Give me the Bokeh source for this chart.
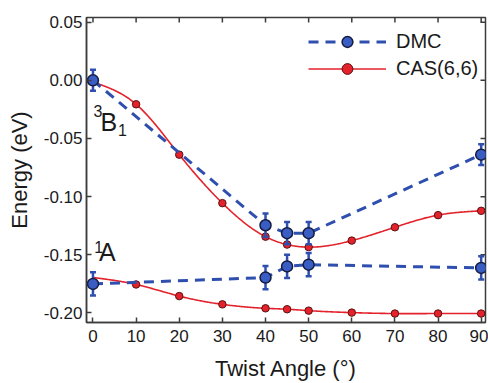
import numpy as np
from bokeh.plotting import figure
from bokeh.models import (Range1d, FixedTicker, PrintfTickFormatter,
                          Legend, LegendItem, Label)
from bokeh.embed import file_html
from bokeh.resources import INLINE

# ---------------- data ----------------
twist_dmc = [0, 40, 45, 50, 90]
dmc_3b1 = [0.000, -0.1246, -0.1314, -0.1314, -0.0639]
dmc_3b1_err = [0.009, 0.010, 0.0095, 0.0095, 0.009]
dmc_1a = [-0.175, -0.1696, -0.160, -0.1585, -0.1613]
dmc_1a_err = [0.010, 0.010, 0.010, 0.010, 0.010]

twist_cas = [0, 10, 20, 30, 40, 45, 50, 60, 70, 80, 90]
cas_3b1 = [-0.0015, -0.0206, -0.0639, -0.1056, -0.1344, -0.1412, -0.1434,
           -0.1378, -0.1263, -0.1159, -0.1122]
cas_1a = [-0.1695, -0.1755, -0.1855, -0.1926, -0.1960, -0.1968, -0.1980,
          -0.1997, -0.2005, -0.2005, -0.2005]

x_ticks = [0, 10, 20, 30, 40, 50, 60, 70, 80, 90]
y_ticks = [-0.20, -0.15, -0.10, -0.05, 0.00, 0.05]

FONT = "Liberation Sans"
TXT = "#1a1a1a"
RED = "#e3222b"
RED_EDGE = "#5a1212"
BLUE = "#2f4fae"
BLUE_FILL = "#3a5dc4"
BLUE_EDGE = "#141c40"
FRAME = "#3c3c3c"


def natural_spline(x, y, n=400):
    x = np.asarray(x, float)
    y = np.asarray(y, float)
    m = len(x)
    h = np.diff(x)
    A = np.zeros((m, m))
    b = np.zeros(m)
    A[0, 0] = 1
    A[-1, -1] = 1
    for i in range(1, m - 1):
        A[i, i - 1] = h[i - 1]
        A[i, i] = 2 * (h[i - 1] + h[i])
        A[i, i + 1] = h[i]
        b[i] = 3 * ((y[i + 1] - y[i]) / h[i] - (y[i] - y[i - 1]) / h[i - 1])
    c = np.linalg.solve(A, b)
    bc = (y[1:] - y[:-1]) / h - h * (2 * c[:-1] + c[1:]) / 3
    d = (c[1:] - c[:-1]) / (3 * h)
    xs = np.linspace(x[0], x[-1], n)
    idx = np.clip(np.searchsorted(x, xs, side="right") - 1, 0, m - 2)
    dx = xs - x[idx]
    ys = y[idx] + bc[idx] * dx + c[idx] * dx ** 2 + d[idx] * dx ** 3
    return xs, ys


xr = Range1d(-1.5, 91)
yr = Range1d(-0.2082, 0.054)
p = figure(width=488, height=383, x_range=xr, y_range=yr, output_backend="svg",
           toolbar_location=None, min_border_left=86, min_border_right=3,
           min_border_top=17, min_border_bottom=59,
           x_axis_label="Twist Angle (°)", y_axis_label="Energy (eV)")
p.grid.visible = False
p.background_fill_color = "white"
p.border_fill_color = "white"
p.outline_line_color = FRAME
p.outline_line_width = 1.5

for ax in (p.xaxis[0], p.yaxis[0]):
    ax.axis_line_color = FRAME
    ax.axis_line_width = 1.5
    ax.major_tick_line_color = FRAME
    ax.major_tick_line_width = 1.5
    ax.major_tick_in = 5
    ax.major_tick_out = 0
    ax.minor_tick_line_color = None
    ax.major_label_text_font = FONT
    ax.major_label_text_font_size = "17px"
    ax.major_label_text_color = TXT
    ax.axis_label_text_font = FONT
    ax.axis_label_text_font_size = "22px"
    ax.axis_label_text_font_style = "normal"
    ax.axis_label_text_color = TXT

p.xaxis[0].ticker = FixedTicker(ticks=x_ticks)
p.yaxis[0].ticker = FixedTicker(ticks=y_ticks)
p.yaxis[0].formatter = PrintfTickFormatter(format="%.2f")
p.xaxis[0].major_label_standoff = 7
p.yaxis[0].major_label_standoff = 4
p.xaxis[0].axis_label_standoff = 11
p.yaxis[0].axis_label_standoff = 9

# inward ticks on the top and right frame edges (clipped to the frame)
p.scatter(x_ticks, [yr.end] * len(x_ticks), marker="dash", angle=np.pi / 2,
          size=10, line_color=FRAME, line_width=1.5)
p.scatter([xr.end] * len(y_ticks), y_ticks, marker="dash",
          size=10, line_color=FRAME, line_width=1.5)

# ---------------- CAS(6,6) ----------------
xs, ys = natural_spline(twist_cas, cas_3b1)
cas_line = p.line(xs, ys, line_color=RED, line_width=1.6)
xs, ys = natural_spline(twist_cas, cas_1a)
p.line(xs, ys, line_color=RED, line_width=1.6)
tc = np.asarray(twist_cas)
mask = tc > 0
cas_mark = p.scatter(tc[mask], np.asarray(cas_3b1)[mask], size=7.5, fill_color=RED,
                     line_color=RED_EDGE, line_width=1)
p.scatter(tc[mask], np.asarray(cas_1a)[mask], size=7.5, fill_color=RED,
          line_color=RED_EDGE, line_width=1)

# ---------------- DMC ----------------
dmc_line = p.line(twist_dmc, dmc_3b1, line_color=BLUE, line_width=3, line_dash="10 7")
p.line(twist_dmc, dmc_1a, line_color=BLUE, line_width=3, line_dash="10 7")

for vals, errs in ((dmc_3b1, dmc_3b1_err), (dmc_1a, dmc_1a_err)):
    v = np.asarray(vals)
    e = np.asarray(errs)
    p.segment(twist_dmc, v - e, twist_dmc, v + e, line_color=BLUE, line_width=2.5)
    p.scatter(twist_dmc, v - e, marker="dash", size=6, line_color=BLUE, line_width=2.5)
    p.scatter(twist_dmc, v + e, marker="dash", size=6, line_color=BLUE, line_width=2.5)

dmc_mark = p.scatter(twist_dmc, dmc_3b1, size=11, fill_color=BLUE_FILL,
                     line_color=BLUE_EDGE, line_width=1.5)
p.scatter(twist_dmc, dmc_1a, size=11, fill_color=BLUE_FILL,
          line_color=BLUE_EDGE, line_width=1.5)

# ---------------- legend ----------------
legend = Legend(items=[LegendItem(label="DMC", renderers=[dmc_line, dmc_mark]),
                       LegendItem(label="CAS(6,6)", renderers=[cas_line, cas_mark])],
                location=(222, 240), orientation="vertical")
legend.label_text_font = FONT
legend.label_text_font_size = "20px"
legend.label_text_color = TXT
legend.label_height = 27
legend.glyph_height = 27
legend.glyph_width = 78
legend.label_standoff = 10
legend.spacing = 0
legend.padding = 0
legend.margin = 0
legend.border_line_color = None
legend.background_fill_alpha = 0
p.add_layout(legend)

# ---------------- state labels ----------------
def lab(x, y, t, size):
    p.add_layout(Label(x=x, y=y, text=t, text_font=FONT, text_font_size=size,
                       text_color=TXT, text_baseline="alphabetic", text_align="left"))

lab(1.75, -0.0355, "B", "25px")
lab(0.1, -0.026, "3", "16px")
lab(5.8, -0.0431, "1", "16px")
lab(1.4, -0.148, "A", "25px")
lab(0.3, -0.1432, "1", "16px")

open("out.html", "w").write(file_html(p, INLINE))
